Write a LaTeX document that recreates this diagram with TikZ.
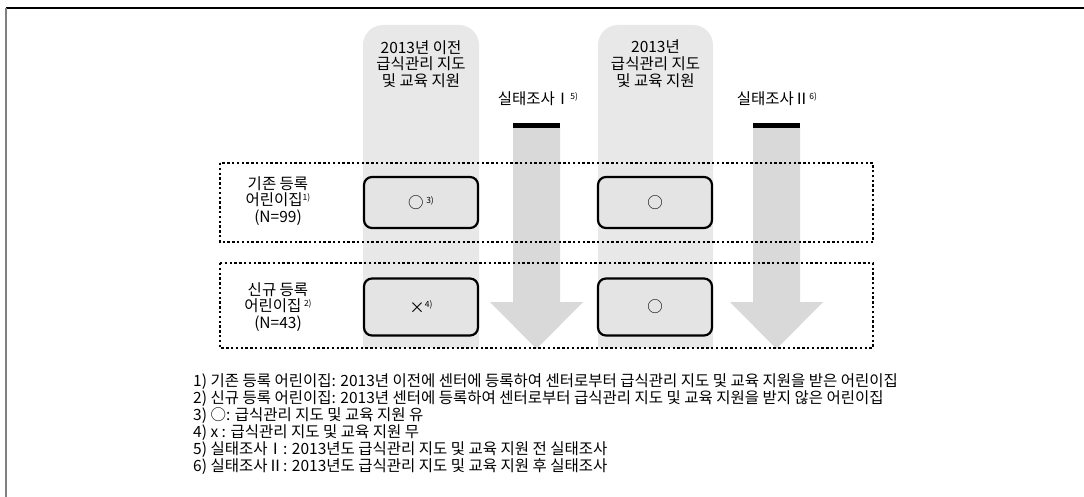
\documentclass[tikz,border=0pt]{standalone}
\usepackage{fontspec}
\setmainfont{Noto Sans CJK KR}
\definecolor{colfill}{RGB}{232,232,232}
\definecolor{boxfill}{RGB}{228,228,228}
\definecolor{arrfill}{RGB}{217,217,217}
\newcommand{\fnm}[1]{\raisebox{0.6ex}{\fontsize{8.5}{9}\selectfont #1}}
\tikzset{
  txt/.style={font=\fontsize{15.5}{16.8}\selectfont, inner sep=0pt, align=center},
  foot/.style={font=\fontsize{15.5}{16.8}\selectfont, inner sep=0pt, anchor=base west},
  cellbox/.style={draw=black, line width=2.2pt, rounded corners=8pt, fill=boxfill,
     minimum width=114pt, inner sep=0pt, font=\fontsize{15.5}{16.8}\selectfont},
  groupbox/.style={draw=black, line width=2pt, dash pattern=on 2.4pt off 2.4pt},
  blockarrow/.style={fill=arrfill},
}
\begin{document}
\begin{tikzpicture}[x=1pt,y=-1pt]
\useasboundingbox (0,0) rectangle (1084,497);
% frame
\draw[black, line width=1.6pt] (6,8) -- (1084,8);
\draw[gray, line width=1.6pt] (6,8) -- (6,497);
% columns
\fill[colfill] (363,348) {[rounded corners=20pt] -- (363,25) -- (479,25)} -- (479,348) -- cycle;
\fill[colfill] (598,348) {[rounded corners=20pt] -- (598,25) -- (713,25)} -- (713,348) -- cycle;
\node[txt] (c1) at (421,64) {2013년 이전\\급식관리 지도\\및 교육 지원};
\node[txt] (c2) at (655.5,64) {2013년\\급식관리 지도\\및 교육 지원};
% arrows
\fill[blockarrow] (513,128) -- (513,302) -- (490,302) -- (536.5,349) -- (583,302) -- (560,302) -- (560,128) -- cycle;
\fill[black] (513,123) rectangle (560,128.5);
\fill[blockarrow] (753,128) -- (753,302) -- (730,302) -- (776.5,349) -- (823,302) -- (800,302) -- (800,128) -- cycle;
\fill[black] (753,123) rectangle (800,128.5);
\node[txt] (s1) at (538,99) {실태조사Ⅰ\fnm{5)}};
\node[txt] (s2) at (777,99) {실태조사Ⅱ\fnm{6)}};
% group boxes
\draw[groupbox] (220,163) rectangle (873,242);
\draw[groupbox] (220,263) rectangle (873,348);
\node[txt] (g1) at (278,201) {기존 등록\\어린이집\fnm{1)}\\(N=99)};
\node[txt] (g2) at (278,307) {신규 등록\\어린이집\,\fnm{2)}\\(N=43)};
% cells
\node[cellbox, minimum height=51pt] (a1) at (421,202.5) {○\,\fnm{3)}};
\node[cellbox, minimum height=51pt] (a2) at (655,202.5) {○};
\node[cellbox, minimum height=57pt] (b1) at (421,307) {×\fnm{4)}};
\node[cellbox, minimum height=57pt] (b2) at (655,307) {○};
% footnotes
\node[foot] (f1) at (193,386) {1) 기존 등록 어린이집: 2013년 이전에 센터에 등록하여 센터로부터 급식관리 지도 및 교육 지원을 받은 어린이집};
\node[foot] (f2) at (193,403) {2) 신규 등록 어린이집: 2013년 센터에 등록하여 센터로부터 급식관리 지도 및 교육 지원을 받지 않은 어린이집};
\node[foot] (f3) at (193,420) {3) ○: 급식관리 지도 및 교육 지원 유};
\node[foot] (f4) at (193,437) {4) x : 급식관리 지도 및 교육 지원 무};
\node[foot] (f5) at (193,454) {5) 실태조사Ⅰ: 2013년도 급식관리 지도 및 교육 지원 전 실태조사};
\node[foot] (f6) at (193,471) {6) 실태조사Ⅱ: 2013년도 급식관리 지도 및 교육 지원 후 실태조사};
\end{tikzpicture}
\end{document}
